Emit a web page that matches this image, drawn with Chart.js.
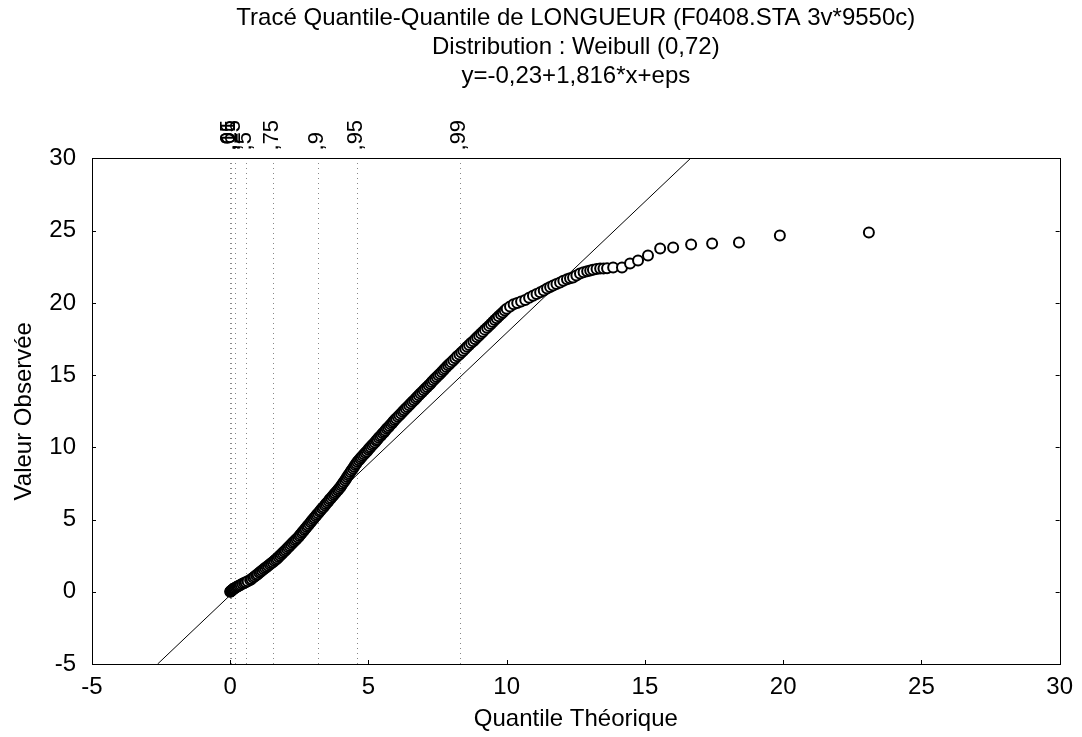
<!DOCTYPE html>
<html><head><meta charset="utf-8">
<script src="https://cdn.jsdelivr.net/npm/chart.js@4.4.1/dist/chart.umd.min.js"></script>
<style>html,body{margin:0;padding:0;background:#fff;}</style>
</head><body>
<canvas id="c" width="1082" height="737"></canvas>
<script>
const titleLines = ['Tracé Quantile-Quantile de LONGUEUR (F0408.STA 3v*9550c)', 'Distribution : Weibull (0,72)', 'y=-0,23+1,816*x+eps'];
const xAxisTitle = 'Quantile Théorique';
const yAxisTitle = 'Valeur Observée';
const axisMin = -5, axisMax = 30, axisStep = 5;
const quantileLabels = [',01', ',05', ',1', ',25', ',5', ',75', ',9', ',95', ',99'];
const quantilePositions = [0.00, 0.02, 0.04, 0.18, 0.60, 1.57, 3.18, 4.59, 8.34];
const fitIntercept = -0.23;
const fitSlope = 1.816;

const theoretical = [
 0.00,0.01,0.02,0.03,0.04,0.06,0.08,0.10,0.13,0.16,0.20,0.24,0.28,0.33,0.38,0.44,0.50,0.56,0.63,0.72,
 0.77,0.83,0.88,0.94,0.99,1.05,1.10,1.15,1.21,1.26,1.32,1.37,1.43,1.48,1.54,1.59,1.65,1.70,
 1.75,1.80,1.85,1.90,1.95,2.00,2.05,2.10,2.15,2.20,2.25,2.30,2.35,2.40,2.45,
 2.50,2.54,2.59,2.63,2.68,2.72,2.77,2.81,2.86,2.91,2.95,3.00,3.04,3.09,3.13,3.18,
 3.23,3.27,3.32,3.37,3.42,3.46,3.51,3.56,3.60,3.65,3.70,3.75,3.79,3.84,3.89,3.93,3.98,
 4.02,4.06,4.10,4.15,4.19,4.23,4.27,4.31,4.35,4.39,4.44,4.48,4.52,4.56,4.60,
 4.65,4.70,4.74,4.79,4.84,4.89,4.94,4.99,5.03,5.08,5.13,5.18,5.23,5.28,5.32,5.37,5.42,5.47,5.52,5.57,5.61,5.66,5.71,5.76,5.81,5.86,5.90,5.95,6.00,
 6.06,6.12,6.18,6.24,6.29,6.35,6.41,6.47,6.53,6.59,6.65,6.71,6.76,6.82,6.88,6.94,7.00,7.06,7.12,7.18,7.24,7.29,7.35,7.41,7.47,7.53,7.59,7.65,7.71,7.76,7.82,7.88,7.94,8.00,
 8.07,8.14,8.21,8.29,8.36,8.43,8.50,8.57,8.64,8.71,8.79,8.86,8.93,9.00,9.07,9.14,9.21,9.29,9.36,9.43,9.50,9.57,9.64,9.71,9.79,9.86,9.93,10.00,
 10.12,10.25,10.38,10.52,10.67,10.81,10.95,11.08,11.21,11.34,11.46,11.57,11.68,11.80,11.93,12.05,12.18,12.29,12.40,12.52,
 12.65,12.78,12.91,13.02,13.12,13.25,13.38,13.50,13.63,13.85,14.17,14.46,14.75,15.11,15.55,16.02,16.67,17.43,18.40,19.88,23.10
];
const observed = [
 0.00,0.02,0.04,0.06,0.08,0.11,0.14,0.17,0.21,0.25,0.30,0.35,0.39,0.44,0.49,0.55,0.61,0.66,0.73,0.81,
 0.89,0.98,1.06,1.14,1.22,1.31,1.39,1.47,1.56,1.64,1.72,1.80,1.89,1.97,2.05,2.14,2.22,2.30,
 2.40,2.49,2.59,2.69,2.79,2.88,2.98,3.08,3.17,3.27,3.37,3.46,3.56,3.66,3.75,
 3.86,3.96,4.07,4.17,4.28,4.38,4.49,4.59,4.70,4.81,4.91,5.02,5.12,5.23,5.33,5.44,
 5.55,5.65,5.76,5.86,5.97,6.08,6.18,6.29,6.40,6.50,6.61,6.71,6.82,6.93,7.03,7.14,7.24,
 7.36,7.47,7.59,7.71,7.83,7.94,8.06,8.18,8.30,8.41,8.53,8.65,8.77,8.88,9.00,
 9.10,9.21,9.31,9.41,9.52,9.62,9.72,9.83,9.93,10.03,10.14,10.24,10.34,10.45,10.55,10.66,10.76,10.86,10.97,11.07,11.17,11.28,11.38,11.48,11.59,11.69,11.79,11.90,12.00,
 12.11,12.23,12.34,12.46,12.57,12.69,12.80,12.92,13.03,13.15,13.26,13.38,13.49,13.61,13.72,13.84,13.95,14.07,14.18,14.30,14.41,14.53,14.64,14.76,14.87,14.99,15.10,15.22,15.33,15.45,15.56,15.68,15.79,15.90,
 16.03,16.16,16.30,16.43,16.56,16.69,16.82,16.96,17.09,17.22,17.35,17.49,17.62,17.75,17.88,18.01,18.15,18.28,18.41,18.54,18.68,18.81,18.94,19.07,19.21,19.34,19.47,19.60,
 19.75,19.90,20.00,20.10,20.20,20.35,20.50,20.62,20.73,20.86,21.00,21.10,21.20,21.31,21.42,21.53,21.63,21.70,21.76,21.90,
 22.04,22.12,22.20,22.25,22.30,22.35,22.39,22.39,22.40,22.45,22.45,22.73,22.94,23.28,23.77,23.84,24.05,24.12,24.18,24.67,24.88
];

const FONT = 'Liberation Sans, Arial, sans-serif';
const points = theoretical.map((x, i) => ({x: x, y: observed[i]}));
const fitLine = [
  {x: (axisMin - fitIntercept) / fitSlope, y: axisMin},
  {x: (axisMax - fitIntercept) / fitSlope, y: axisMax}
];

const framePlugin = {
  id: 'frame',
  afterDraw(chart) {
    const {ctx, chartArea: a, scales} = chart;
    ctx.save();
    ctx.strokeStyle = '#000';
    ctx.lineWidth = 1;
    ctx.strokeRect(Math.round(a.left) + 0.5, Math.round(a.top) + 0.5, Math.round(a.right - a.left), Math.round(a.bottom - a.top));
    ctx.beginPath();
    const tl = 4;
    scales.x.ticks.forEach(t => {
      const px = Math.round(scales.x.getPixelForValue(t.value)) + 0.5;
      ctx.moveTo(px, a.bottom); ctx.lineTo(px, a.bottom - tl);
    });
    scales.y.ticks.forEach(t => {
      const py = Math.round(scales.y.getPixelForValue(t.value)) + 0.5;
      ctx.moveTo(a.left, py); ctx.lineTo(a.left + tl, py);
      ctx.moveTo(a.right, py); ctx.lineTo(a.right - tl, py);
    });
    ctx.stroke();
    ctx.restore();
  }
};

new Chart(document.getElementById('c'), {
  type: 'scatter',
  data: {
    datasets: [
      {
        label: 'Observed',
        data: points,
        order: 0,
        pointStyle: 'circle',
        pointRadius: 5,
        pointBorderWidth: 2,
        borderColor: '#000',
        backgroundColor: '#fff',
        showLine: false
      },
      {
        label: 'Fit',
        type: 'line',
        data: fitLine,
        order: 1,
        borderColor: '#000',
        borderWidth: 1,
        pointRadius: 0,
        fill: false
      }
    ]
  },
  options: {
    responsive: false,
    animation: false,
    devicePixelRatio: 1,
    layout: {padding: {left: 0, right: 22, top: 0, bottom: 0}},
    plugins: {
      legend: {display: false},
      tooltip: {enabled: false},
      title: {
        display: true,
        text: titleLines,
        fullSize: false,
        color: '#000',
        font: {family: FONT, size: 24, weight: 'normal', lineHeight: 1.208},
        padding: {top: 3.5, bottom: 0}
      }
    },
    scales: {
      x: {
        type: 'linear', position: 'bottom', min: axisMin, max: axisMax,
        ticks: {stepSize: axisStep, color: '#000', font: {family: FONT, size: 24}, padding: 9, maxRotation: 0},
        grid: {display: false, drawTicks: false},
        border: {display: false},
        title: {display: true, text: xAxisTitle, color: '#000', font: {family: FONT, size: 24}, padding: {top: 0, bottom: 3}},
        afterFit: s => { s.height = 73; }
      },
      x2: {
        type: 'linear', position: 'top', min: axisMin, max: axisMax,
        afterBuildTicks: s => { s.ticks = quantilePositions.map(v => ({value: v})); },
        ticks: {autoSkip: false, minRotation: 90, maxRotation: 90, color: '#000', font: {family: FONT, size: 22}, padding: 8,
          labelOffset: 25, callback: (v, i) => quantileLabels[i]},
        grid: {display: true, drawOnChartArea: true, drawTicks: false, color: '#888', lineWidth: 1},
        border: {display: false, dash: [1, 4]},
        afterFit: s => { s.height = 68; }
      },
      y: {
        type: 'linear', position: 'left', min: axisMin, max: axisMax,
        ticks: {stepSize: axisStep, color: '#000', font: {family: FONT, size: 24}, padding: 16},
        grid: {display: false, drawTicks: false},
        border: {display: false},
        title: {display: true, text: yAxisTitle, color: '#000', font: {family: FONT, size: 24}, padding: {top: 10, bottom: 0}},
        afterFit: s => { s.width = 92; }
      }
    }
  },
  plugins: [framePlugin]
});
</script>
</body></html>
